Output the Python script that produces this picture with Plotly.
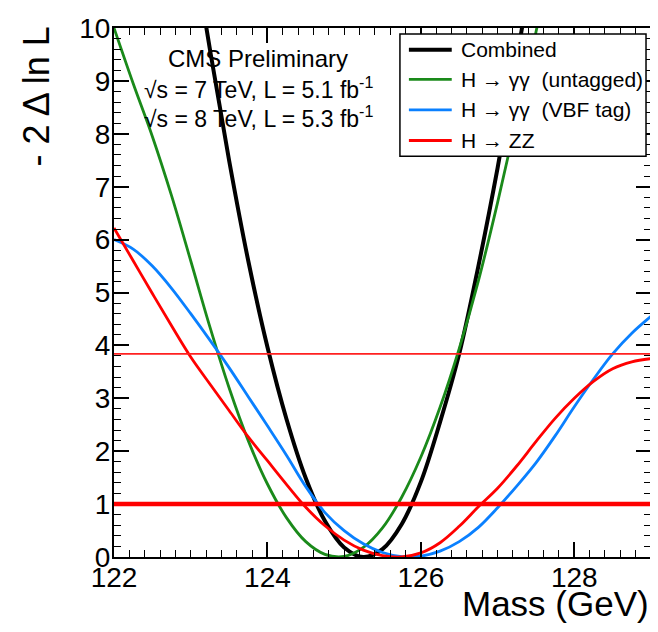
import plotly.graph_objects as go

# ---------------- data ----------------
comb_mass = [123.00, 123.25, 123.50, 123.75, 124.00, 124.25, 124.50, 124.75, 125.00, 125.25,
             125.50, 125.75, 126.00, 126.25, 126.50, 126.75, 127.00, 127.25, 127.50]
comb_val = [11.8, 9.6, 7.5, 5.6, 3.97, 2.6, 1.49, 0.68, 0.18, 0.0,
            0.15, 0.62, 1.42, 2.55, 3.84, 5.5, 7.35, 9.4, 11.6]

untag_mass = [122.00, 122.25, 122.50, 122.75, 123.00, 123.25, 123.50, 123.75, 124.00, 124.25,
              124.50, 124.75, 125.00, 125.25, 125.50, 125.75, 126.00, 126.25, 126.50, 126.75,
              127.00, 127.25, 127.50, 127.75]
untag_val = [10.0, 8.95, 7.95, 6.83, 5.6, 4.35, 3.2, 2.2, 1.38, 0.74,
             0.29, 0.05, 0.01, 0.18, 0.55, 1.13, 1.89, 2.83, 3.94, 5.22,
             6.7, 8.3, 9.92, 11.8]

vbf_mass = [122.00, 122.25, 122.50, 122.75, 123.00, 123.25, 123.50, 123.75, 124.00, 124.25,
            124.50, 124.75, 125.00, 125.25, 125.50, 125.75, 126.00, 126.25, 126.50, 126.75,
            127.00, 127.25, 127.50, 127.75, 128.00, 128.25, 128.50, 128.75, 129.00]
vbf_val = [6.0, 5.82, 5.5, 5.08, 4.6, 4.1, 3.58, 3.03, 2.48, 1.92,
           1.33, 0.84, 0.50, 0.25, 0.085, 0.007, 0.016, 0.11, 0.29, 0.56,
           0.93, 1.34, 1.78, 2.29, 2.84, 3.36, 3.84, 4.23, 4.55]

zz_mass = [122.00, 122.25, 122.50, 122.75, 123.00, 123.25, 123.50, 123.75, 124.00, 124.25,
           124.50, 124.75, 125.00, 125.25, 125.50, 125.75, 126.00, 126.25, 126.50, 126.75,
           127.00, 127.25, 127.50, 127.75, 128.00, 128.25, 128.50, 128.75, 129.00]
zz_val = [6.22, 5.6, 4.98, 4.37, 3.78, 3.27, 2.77, 2.27, 1.82, 1.37,
          0.94, 0.59, 0.32, 0.13, 0.026, 0.002, 0.077, 0.27, 0.58, 0.95,
          1.3, 1.72, 2.18, 2.62, 3.0, 3.32, 3.56, 3.69, 3.75]

series_names = ["Combined", "H \u2192 \u03b3\u03b3  (untagged)", "H \u2192 \u03b3\u03b3  (VBF tag)", "H \u2192 ZZ"]
series_colors = ["#000000", "#1a8a1a", "#0a80ff", "#ff0000"]
series_widths = [4, 2.8, 2.8, 2.8]

level_1sigma = 1.0
level_95cl = 3.84

x_range = [122, 129]
y_range = [0, 10]

# ---------------- geometry helpers (window pixels) ----------------
OFF = 8                      # default page margin of the html body
W, H = 650, 616              # figure size so that it fits the 658x632 window
PL, PR, PT, PB = 114, 653, 21, 557   # wanted plot box in window pixels
L = PL - OFF
T = PT - OFF
R = W - (PR - OFF)
B = H - (PB - OFF)
PW, PH = PR - PL, PB - PT


def px(x):
    return (x - PL) / PW


def py(y):
    return (PB - y) / PH


fig = go.Figure()
for mx, vy, nm, col, lw in zip([comb_mass, untag_mass, vbf_mass, zz_mass],
                               [comb_val, untag_val, vbf_val, zz_val],
                               series_names, series_colors, series_widths):
    fig.add_trace(go.Scatter(x=mx, y=vy, mode="lines", name=nm,
                             line=dict(color=col, width=lw, shape="spline", smoothing=1.0),
                             showlegend=False))

shapes = []
shapes.append(dict(type="line", xref="paper", x0=0, x1=1, yref="y", y0=level_1sigma, y1=level_1sigma,
                   line=dict(color="#ff0000", width=4.5), layer="above"))
shapes.append(dict(type="line", xref="paper", x0=0, x1=1, yref="y", y0=level_95cl, y1=level_95cl,
                   line=dict(color="#ff2020", width=1.8), layer="above"))

# legend box (drawn by hand to match the sample-line length)
shapes.append(dict(type="rect", xref="paper", yref="paper", x0=px(401), x1=px(648), y0=py(151), y1=py(27),
                   line=dict(color="black", width=1.5), fillcolor="white", layer="above"))
annotations = []
rows = [43, 73, 104, 135]
for nm, col, lw, ry in zip(series_names, series_colors, series_widths, rows):
    shapes.append(dict(type="line", xref="paper", yref="paper", x0=px(410), x1=px(453), y0=py(ry), y1=py(ry),
                       line=dict(color=col, width=lw), layer="above"))
    annotations.append(dict(xref="paper", yref="paper", x=px(460), y=py(ry), text=nm, showarrow=False,
                            xanchor="left", yanchor="middle",
                            font=dict(family="Liberation Sans, Arial", size=21, color="black")))

for txt, ty, fs in [("CMS Preliminary", 52, 24), ("\u221as = 7 TeV, L = 5.1 fb<sup>-1</sup>", 82, 23),
                    ("\u221as = 8 TeV, L = 5.3 fb<sup>-1</sup>", 111, 23)]:
    annotations.append(dict(xref="paper", yref="paper", x=px(259), y=py(ty), text=txt, showarrow=False,
                            xanchor="center", yanchor="middle",
                            font=dict(family="Liberation Sans, Arial", size=fs, color="black")))

annotations.append(dict(xref="paper", yref="paper", x=1.0, y=py(604), text="Mass (GeV)", showarrow=False,
                        xanchor="right", yanchor="middle",
                        font=dict(family="Liberation Sans, Arial", size=35, color="black")))
annotations.append(dict(xref="paper", yref="paper", x=px(36), y=py(90), text="- 2 \u0394 ln L", showarrow=False,
                        textangle=-90, xanchor="center", yanchor="middle",
                        font=dict(family="Liberation Sans, Arial", size=36, color="black")))

axis_common = dict(showline=True, linecolor="black", linewidth=2, mirror="allticks",
                   ticks="inside", ticklen=15, tickwidth=1.5, tickcolor="black",
                   showgrid=False, zeroline=False, ticklabeloverflow="allow",
                   tickfont=dict(family="Liberation Sans, Arial", size=28, color="black"))

fig.update_layout(
    width=W, height=H,
    margin=dict(l=L, r=R, t=T, b=B),
    paper_bgcolor="white", plot_bgcolor="white",
    xaxis=dict(range=x_range, tick0=122, dtick=2,
               minor=dict(dtick=0.2, ticks="inside", ticklen=7, tickcolor="black", tickwidth=1),
               **axis_common),
    yaxis=dict(range=y_range, tick0=0, dtick=1,
               minor=dict(dtick=0.2, ticks="inside", ticklen=7, tickcolor="black", tickwidth=1),
               **axis_common),
    shapes=shapes,
    annotations=annotations,
    showlegend=False,
)

try:
    fig.update_xaxes(ticklabelstandoff=-6)
    fig.update_yaxes(ticklabelstandoff=-4)
except Exception:
    pass

fig.write_html("out.html")
